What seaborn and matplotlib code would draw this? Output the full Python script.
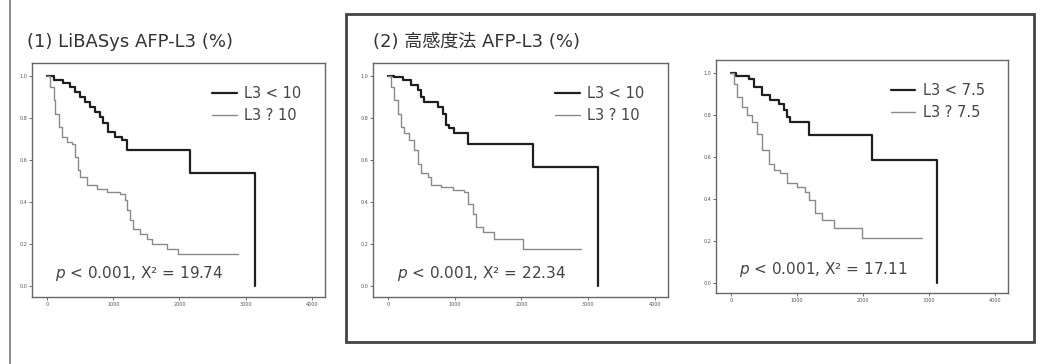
import matplotlib
matplotlib.use("Agg")
import matplotlib.pyplot as plt
from matplotlib.lines import Line2D
from matplotlib.patches import Rectangle
import pandas as pd
import seaborn as sns


# =========================================================
# 0. Data
# =========================================================

# (1) LiBASys AFP-L3, cut-off 10
p1_low_days = [0, 96, 246, 347, 423, 498, 574, 649, 725, 800, 850, 926, 1026, 1127, 1202, 2158, 3140, 3140]
p1_low_surv = [1.0, 0.981, 0.965, 0.946, 0.925, 0.902, 0.878, 0.854, 0.830, 0.806, 0.775, 0.735, 0.711, 0.695, 0.648, 0.541, 0.541, 0.0]
p1_high_days = [0, 45, 96, 121, 171, 221, 297, 372, 423, 473, 498, 599, 750, 900, 1102, 1177, 1202,
                1253, 1303, 1404, 1504, 1580, 1806, 1982, 2888]
p1_high_surv = [1.0, 0.949, 0.886, 0.822, 0.759, 0.711, 0.687, 0.679, 0.616, 0.552, 0.521, 0.481, 0.465,
                0.449, 0.441, 0.410, 0.362, 0.314, 0.275, 0.251, 0.227, 0.203, 0.179, 0.152, 0.152]

# (2) high-sensitivity AFP-L3, cut-off 10
p2_low_days = [0, 90, 216, 341, 441, 491, 541, 742, 817, 867, 917, 992, 1193, 2170, 3148, 3148]
p2_low_surv = [1.0, 0.994, 0.981, 0.957, 0.933, 0.902, 0.878, 0.854, 0.822, 0.767, 0.751, 0.727, 0.679, 0.568, 0.568, 0.0]
p2_high_days = [0, 40, 90, 140, 190, 241, 316, 391, 441, 491, 591, 642, 792, 967, 1143, 1193,
                1268, 1318, 1419, 1594, 2020, 2897]
p2_high_surv = [1.0, 0.949, 0.886, 0.822, 0.759, 0.727, 0.695, 0.648, 0.584, 0.537, 0.521, 0.481,
                0.473, 0.457, 0.449, 0.394, 0.346, 0.283, 0.259, 0.227, 0.179, 0.179]

# (2) high-sensitivity AFP-L3, cut-off 7.5
p3_low_days = [0, 66, 267, 343, 469, 595, 721, 797, 847, 898, 1175, 2134, 3117, 3117]
p3_low_surv = [1.0, 0.984, 0.973, 0.933, 0.894, 0.870, 0.854, 0.822, 0.790, 0.767, 0.703, 0.584, 0.584, 0.0]
p3_high_days = [0, 40, 91, 166, 242, 318, 393, 469, 570, 646, 747, 847, 999, 1125, 1175, 1276,
                1377, 1554, 1982, 2890]
p3_high_surv = [1.0, 0.949, 0.886, 0.838, 0.798, 0.767, 0.711, 0.632, 0.568, 0.537, 0.521, 0.473,
                0.457, 0.433, 0.394, 0.330, 0.298, 0.259, 0.211, 0.211]

panel_labels = [("L3 < 10", "L3 ? 10"), ("L3 < 10", "L3 ? 10"), ("L3 < 7.5", "L3 ? 7.5")]
panel_stats = ["19.74", "22.34", "17.11"]
x_ticks = [0, 1000, 2000, 3000, 4000]
y_ticks = [0.0, 0.2, 0.4, 0.6, 0.8, 1.0]

titles = ["(1) LiBASys AFP-L3 (%)", "(2) 高感度法 AFP-L3 (%)"]


# =========================================================
# 1. Style
# =========================================================

sns.set_style("white")
plt.rcParams["font.family"] = ["DejaVu Sans", "Noto Sans CJK JP"]

W, H = 1052, 364
fig = plt.figure(figsize=(W / 100, H / 100), dpi=100)
fig.patch.set_facecolor("white")


def px_axes(left, top, right, bottom):
    return fig.add_axes([left / W, 1 - bottom / H, (right - left) / W, (bottom - top) / H])


def km_panel(ax, low_days, low_surv, high_days, high_surv, labels, stat):
    df_low = pd.DataFrame({"day": low_days, "surv": low_surv})
    df_high = pd.DataFrame({"day": high_days, "surv": high_surv})

    sns.lineplot(data=df_low, x="day", y="surv", ax=ax, color="#1e1e1e", linewidth=1.6,
                 drawstyle="steps-post", sort=False, estimator=None, label=labels[0])
    sns.lineplot(data=df_high, x="day", y="surv", ax=ax, color="#8a8a8a", linewidth=1.0,
                 drawstyle="steps-post", sort=False, estimator=None, label=labels[1])

    ax.set_xlim(-230, 4200)
    ax.set_ylim(-0.05, 1.062)
    ax.set_xticks(x_ticks)
    ax.set_yticks(y_ticks)
    ax.set_xticklabels([str(t) for t in x_ticks])
    ax.set_yticklabels([f"{t:.1f}" for t in y_ticks])
    ax.tick_params(axis="both", labelsize=3.5, length=2, width=0.6, pad=1.5,
                   colors="#555555", direction="out", bottom=True, left=True)
    ax.set_xlabel("")
    ax.set_ylabel("")
    for s in ax.spines.values():
        s.set_color("#666666")
        s.set_linewidth(1.0)

    leg = ax.legend(loc="upper right", frameon=False, fontsize=10.5, handlelength=1.7,
                    handletextpad=0.5, labelspacing=0.45, borderaxespad=1.2)
    for t in leg.get_texts():
        t.set_color("#444444")

    ax.text(0.08, 0.08, f"$\\it{{p}}$ < 0.001, X² = {stat}", transform=ax.transAxes,
            fontsize=11, color="#444444", ha="left", va="baseline")


# =========================================================
# 2. Panels
# =========================================================

ax1 = px_axes(32, 63, 325, 297)
km_panel(ax1, p1_low_days, p1_low_surv, p1_high_days, p1_high_surv, panel_labels[0], panel_stats[0])

ax2 = px_axes(373, 63, 668, 297)
km_panel(ax2, p2_low_days, p2_low_surv, p2_high_days, p2_high_surv, panel_labels[1], panel_stats[1])

ax3 = px_axes(716, 60, 1008, 293)
km_panel(ax3, p3_low_days, p3_low_surv, p3_high_days, p3_high_surv, panel_labels[2], panel_stats[2])

fig.text(27 / W, 1 - 42 / H, titles[0], fontsize=13, color="#333333", ha="left", va="center")
fig.text(373 / W, 1 - 42 / H, titles[1], fontsize=13, color="#333333", ha="left", va="center")

# outer frames of the scanned figure
fig.add_artist(Line2D([10 / W, 10 / W], [0, 1], transform=fig.transFigure,
                      color="#777777", linewidth=1.2))
fig.add_artist(Rectangle((346 / W, 1 - 342 / H), (1034 - 346) / W, (342 - 14) / H,
                         transform=fig.transFigure, fill=False, edgecolor="#444444", linewidth=2.0))

fig.savefig("out.png", dpi=100, facecolor="white")
